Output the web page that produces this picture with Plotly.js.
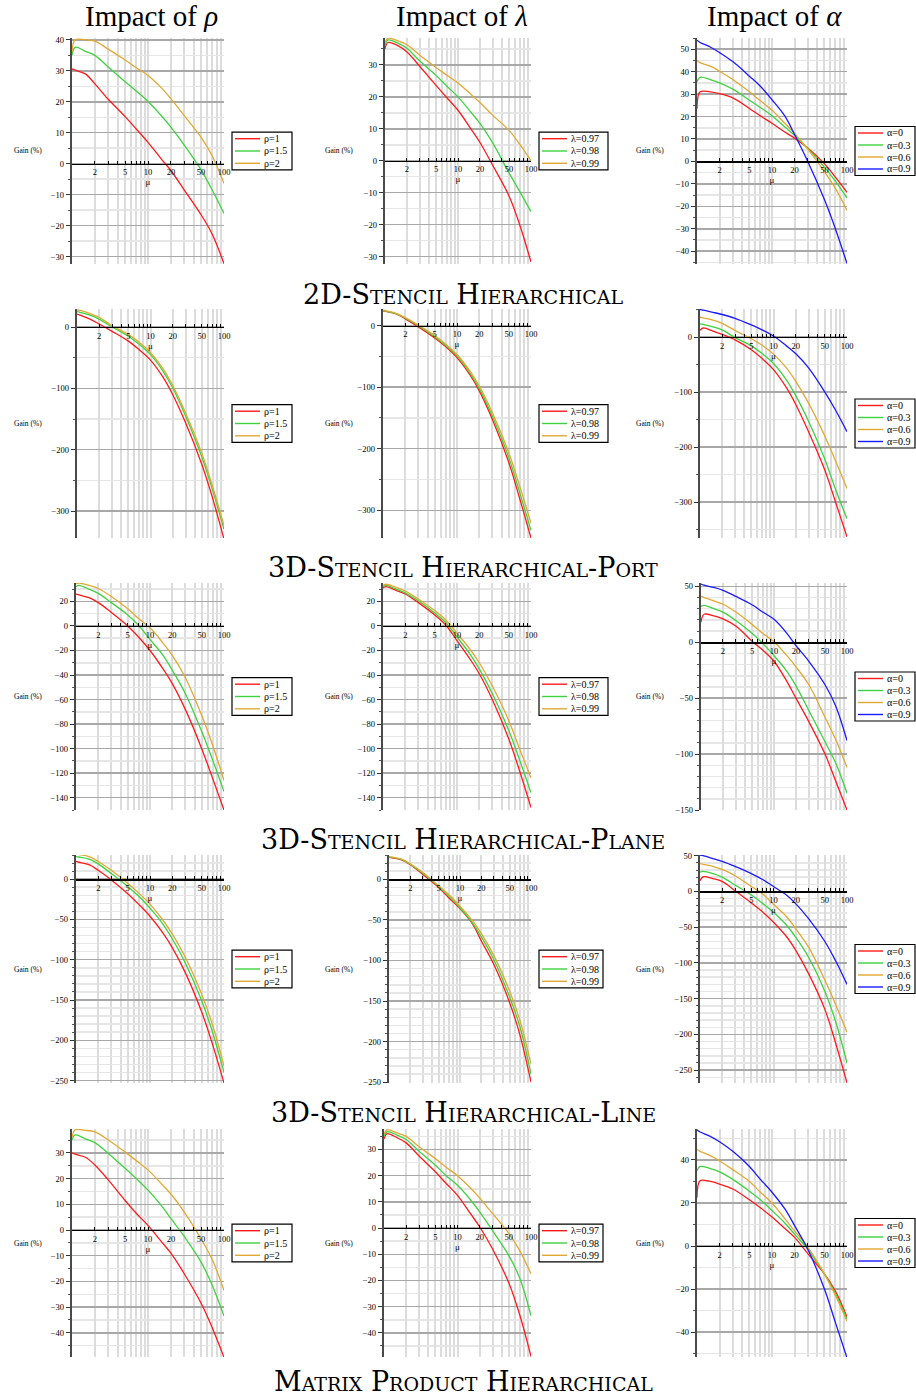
<!DOCTYPE html>
<html><head><meta charset="utf-8">
<script src="https://cdn.plot.ly/plotly-3.0.1.min.js"></script>
<style>html,body{margin:0;padding:0;background:#fff}</style>
</head><body><div id="chart" style="width:916px;height:1399px"></div>
<script>
// ---------- DATA ----------
const MU = [1, 1.1, 1.5, 2, 3, 5, 7, 10, 15, 20, 30, 50, 70, 100];
const X_TICKS = [2, 5, 10, 20, 50, 100];
const X_TICK_TEXT = ['2', '5', '10', '20', '50', '100'];
const RHO_LABELS = ['ρ=1', 'ρ=1.5', 'ρ=2'];
const LAMBDA_LABELS = ['λ=0.97', 'λ=0.98', 'λ=0.99'];
const ALPHA_LABELS = ['α=0', 'α=0.3', 'α=0.6', 'α=0.9'];
const COL_TITLES = ['Impact of <i>ρ</i>', 'Impact of <i>λ</i>', 'Impact of <i>α</i>'];
const ROW_CAPTIONS = ['2D-Stencil Hierarchical', '3D-Stencil Hierarchical-Port', '3D-Stencil Hierarchical-Plane', '3D-Stencil Hierarchical-Line', 'Matrix Product Hierarchical'];

// 2D-Stencil Hierarchical
const s2d_rho_1   = [30.6, 30.2, 29.0, 25.8, 20.8, 15.2, 11.2, 6.9, 1.5, -2.2, -8.5, -16.5, -22.8, -32.3];
const s2d_rho_15  = [35.1, 37.6, 36.3, 35.0, 31.2, 26.5, 23.5, 20.1, 15.5, 11.8, 6.0, -2.0, -8.5, -16.1];
const s2d_rho_2   = [36, 40, 40, 39.6, 37, 33.5, 31, 28.5, 24.5, 21, 15.5, 8.5, 2.5, -6.4];
const s2d_lam_97  = [35, 37, 36, 34, 29.5, 23.6, 19.8, 15.8, 10, 5.7, -1.5, -11, -20, -31.7];
const s2d_lam_98  = [36, 37.8, 36.8, 35.2, 31.2, 26.7, 23.4, 20, 15.2, 11.7, 5.5, -3.8, -9.6, -15.9];
const s2d_lam_99  = [37, 38.3, 37.5, 36.3, 33, 29.2, 26.8, 24.3, 20.8, 18.2, 14.2, 9.5, 5.2, 0];
const s2d_alp_0   = [23.5, 31.0, 31.0, 30.2, 28.3, 23.6, 20.3, 17, 13, 10.4, 6, -1, -7, -13.8];
const s2d_alp_03  = [35.5, 37.5, 36.5, 35, 32.2, 27.3, 24, 20.4, 15.2, 11.6, 5.8, -2.5, -8.8, -16.3];
const s2d_alp_06  = [45, 44, 42.5, 40.2, 36.5, 31, 27, 22.8, 16.8, 12.5, 5.5, -4.5, -12, -21.8];
const s2d_alp_09  = [54, 53, 51, 48.5, 44.5, 38, 33.5, 27.5, 20, 12, 0, -17, -30, -45.5];
// 3D-Stencil Hierarchical-Port
const port_rho_1  = [21, 19.5, 13, 5, -7, -23, -37, -54, -83, -110, -156, -224, -279, -346];
const port_rho_15 = [25, 24, 19.5, 13, 0, -15, -28, -45, -73, -99, -145, -212, -266, -330];
const port_rho_2  = [28, 27, 22, 16, 2, -12, -25, -42, -69, -95, -140, -206, -260, -324];
const port_lam_97 = [24, 23, 19, 11, -2, -20, -34, -52, -80, -106, -152, -222, -280, -345];
const port_lam_98 = [24.5, 23.5, 19.5, 12, 0, -18, -32, -49, -77, -102, -147, -214, -270, -333];
const port_lam_99 = [25, 24, 20, 13, 1, -16, -30, -47, -74, -98, -141, -206, -260, -321];
const port_alp_0  = [12, 16.5, 11, 5, -5, -23, -39, -59, -92, -122, -172, -242, -300, -363];
const port_alp_03 = [24, 23, 18.5, 13, -1, -16, -30, -48, -78, -106, -153, -222, -277, -330];
const port_alp_06 = [36, 35, 31, 25, 12, -3, -15, -31, -56, -80, -120, -180, -225, -275];
const port_alp_09 = [50, 49, 45, 41, 34, 22, 13, 2, -16, -30, -56, -100, -133, -172];
// 3D-Stencil Hierarchical-Plane
const plane_rho_1  = [26, 25.3, 23, 19, 11, 0, -9, -20, -35, -47, -68, -100, -124, -150];
const plane_rho_15 = [32, 33, 30, 26.5, 19, 9, 0.5, -11, -24, -36, -55, -86, -109, -135];
const plane_rho_2  = [34.5, 35, 33, 30.5, 24, 14, 6, -1.5, -14, -24, -42, -73, -97, -126];
const plane_lam_97 = [31, 32, 29, 26, 19, 9, 1, -12, -27, -39, -60, -92, -118, -148];
const plane_lam_98 = [32, 33, 30, 27, 20.5, 10.5, 3, -9, -23, -35, -55, -85, -109, -136];
const plane_lam_99 = [33, 34, 31.5, 28.5, 22, 12.5, 5, -6, -19, -30, -49, -77, -100, -124];
const plane_alp_0  = [18, 25, 23.5, 21, 14.5, 1, -7, -17, -35, -50, -71, -100, -124, -150];
const plane_alp_03 = [32, 33, 30, 27, 19.5, 8, -1, -12, -26, -39, -61, -89, -108, -135];
const plane_alp_06 = [41, 40, 37, 34, 27, 16, 8, 0.5, -12, -22, -38, -67, -87, -112];
const plane_alp_09 = [52, 51, 49, 46.5, 41, 33.5, 27, 20.5, 8, -3, -17, -38, -57, -88];
// 3D-Stencil Hierarchical-Line
const line_rho_1  = [22, 21, 18, 11, -1, -18, -31, -46, -67, -85, -116, -165, -205, -253];
const line_rho_15 = [28, 27.5, 25, 19, 7, -9, -21, -36, -56, -74, -104, -151, -190, -240];
const line_rho_2  = [31, 30.5, 28, 22, 11, -5, -17, -31, -51, -68, -97, -143, -181, -232];
const line_lam_97 = [27, 26.5, 24, 18, 6, -10, -23, -36, -55, -76, -105, -152, -192, -250];
const line_lam_98 = [27.5, 27, 24.5, 18.5, 7.5, -9, -21, -35, -54, -71, -99, -145, -182, -240];
const line_lam_99 = [28, 27.5, 25, 19, 8.5, -8, -19, -33, -51, -67, -94, -138, -174, -228];
const line_alp_0  = [15, 20.5, 18, 14, 1, -16, -28, -43, -63, -82, -115, -165, -212, -268];
const line_alp_03 = [27, 28, 25, 20, 9, -5, -16, -29, -47, -64, -92, -140, -182, -240];
const line_alp_06 = [39, 38, 35, 31, 22, 7, -3, -18, -35, -52, -78, -124, -158, -197];
const line_alp_09 = [51, 50, 46, 42, 35, 25, 17, 7, -5, -17, -38, -70, -97, -130];
// Matrix Product Hierarchical
const mat_rho_1   = [30, 29.5, 28.3, 25.3, 19.5, 11.5, 6.5, 1.8, -4.5, -9, -17, -28.5, -38, -49.5];
const mat_rho_15  = [35, 37, 35.5, 34, 29.8, 24, 20, 15.5, 9.5, 4.5, -2.5, -12.5, -21.5, -33.5];
const mat_rho_2   = [36, 39, 38.8, 38.2, 35, 30.3, 27, 23.4, 18, 14, 7, -3.5, -11.5, -23.5];
const mat_lam_97  = [34, 36, 34.5, 32.5, 27.5, 21.5, 17, 12.5, 5.5, 0.5, -8, -21, -33, -49];
const mat_lam_98  = [35, 36.8, 35.5, 33.8, 29.3, 24, 20, 16.3, 10.8, 6.2, -1, -10.5, -19, -33.5];
const mat_lam_99  = [36, 37.5, 36.3, 35, 31, 26.5, 23.2, 20, 15.3, 11.5, 5.5, -2, -8.5, -17.5];
const mat_alp_0   = [22.5, 30.3, 30, 28.8, 26.5, 21.5, 17.8, 13.5, 8, 4, -3.5, -13, -21, -33];
const mat_alp_03  = [35, 37, 36, 34.5, 31, 25.5, 21.5, 16.5, 10.5, 5.5, -1.5, -13, -22, -34];
const mat_alp_06  = [45, 44, 42, 39.5, 35.5, 30, 25, 20, 12.5, 7, -0.5, -13, -23, -35];
const mat_alp_09  = [54, 53, 51, 48.5, 44, 37, 31, 25, 17, 9.5, -1.5, -20, -35.5, -52];

// ---------- LAYOUT SPEC (pixels) ----------
const W = 916, H = 1399;
const COLORS = ['#ff1a1a', '#3fd23f', '#e2a833', '#1a1aff'];
const panels = [
  {s:[s2d_rho_1,s2d_rho_15,s2d_rho_2], lab:RHO_LABELS, box:[72,38,224,264], r:[-32.4,40.6], dt:10, mdt:5, col:0, lw:60},
  {s:[s2d_lam_97,s2d_lam_98,s2d_lam_99], lab:LAMBDA_LABELS, box:[385,38,531,264], r:[-32.3,38.4], dt:10, mdt:5, col:1, lw:69},
  {s:[s2d_alp_0,s2d_alp_03,s2d_alp_06,s2d_alp_09], lab:ALPHA_LABELS, box:[697,38,847,264], r:[-45.7,55], dt:10, mdt:5, col:2, lw:60},
  {s:[port_rho_1,port_rho_15,port_rho_2], lab:RHO_LABELS, box:[77,309,224,538], r:[-344,29.4], dt:100, mdt:50, col:0, lw:60},
  {s:[port_lam_97,port_lam_98,port_lam_99], lab:LAMBDA_LABELS, box:[383,309,531,538], r:[-345,27], dt:100, mdt:50, col:1, lw:69},
  {s:[port_alp_0,port_alp_03,port_alp_06,port_alp_09], lab:ALPHA_LABELS, box:[700,309,847,538], r:[-365,51], dt:100, mdt:50, col:2, lw:60},
  {s:[plane_rho_1,plane_rho_15,plane_rho_2], lab:RHO_LABELS, box:[76,583,224,810], r:[-150,35], dt:20, mdt:10, col:0, lw:60},
  {s:[plane_lam_97,plane_lam_98,plane_lam_99], lab:LAMBDA_LABELS, box:[383,583,531,810], r:[-150,35], dt:20, mdt:10, col:1, lw:69},
  {s:[plane_alp_0,plane_alp_03,plane_alp_06,plane_alp_09], lab:ALPHA_LABELS, box:[701,583,847,810], r:[-150,53], dt:50, mdt:10, col:2, lw:60},
  {s:[line_rho_1,line_rho_15,line_rho_2], lab:RHO_LABELS, box:[76,855,224,1083], r:[-253,30], dt:50, mdt:10, col:0, lw:60},
  {s:[line_lam_97,line_lam_98,line_lam_99], lab:LAMBDA_LABELS, box:[389,855,531,1083], r:[-251,30], dt:50, mdt:10, col:1, lw:64},
  {s:[line_alp_0,line_alp_03,line_alp_06,line_alp_09], lab:ALPHA_LABELS, box:[700,855,847,1083], r:[-268,51], dt:50, mdt:10, col:2, lw:60},
  {s:[mat_rho_1,mat_rho_15,mat_rho_2], lab:RHO_LABELS, box:[72,1129,224,1357], r:[-49.4,39.3], dt:10, mdt:5, col:0, lw:60},
  {s:[mat_lam_97,mat_lam_98,mat_lam_99], lab:LAMBDA_LABELS, box:[384,1129,531,1357], r:[-49.2,37.8], dt:10, mdt:5, col:1, lw:64},
  {s:[mat_alp_0,mat_alp_03,mat_alp_06,mat_alp_09], lab:ALPHA_LABELS, box:[697,1129,847,1357], r:[-51.6,54.4], dt:20, mdt:10, col:2, lw:60}
];
const GAIN_X = [28, 339, 650];
const COL_TITLE_X = [151, 462, 774];
const CAPTION_Y = [294, 567, 840, 1112, 1381];

const px = v => v / W;
const py = v => 1 - v / H;
const SERIF = 'Liberation Serif, Times New Roman, serif';
const CAPSERIF = 'DejaVu Serif, Liberation Serif, serif';
const minorX = [];
[1, 10].forEach(d => { for (let k = 1; k <= 9; k++) minorX.push(k * d); });
minorX.push(100);

const traces = [], layout = {
  width: W, height: H, margin: {l:0, r:0, t:0, b:0},
  paper_bgcolor: '#fff', plot_bgcolor: 'rgba(0,0,0,0)',
  showlegend: false, annotations: [], shapes: [],
  font: {family: SERIF, color: '#000'}
};

panels.forEach((p, i) => {
  const n = i + 1, sx = n === 1 ? '' : String(n);
  const [x0, y0, x1, y1] = p.box;
  const yd = [py(y1), py(y0)];
  const zeroPos = yd[0] + (0 - p.r[0]) / (p.r[1] - p.r[0]) * (yd[1] - yd[0]);
  p.s.forEach((vals, k) => {
    traces.push({x: MU, y: vals, type: 'scatter', mode: 'lines', name: p.lab[k],
      xaxis: 'x' + sx, yaxis: 'y' + sx, line: {color: COLORS[k], width: 1.3, shape: 'spline', smoothing: 1}, hoverinfo: 'skip'});
  });
  layout['xaxis' + sx] = {
    type: 'log', range: [0, 2], domain: [px(x0), px(x1)], anchor: 'free', position: zeroPos,
    showline: true, linecolor: '#000', linewidth: 1.4, zeroline: false,
    tickmode: 'array', tickvals: X_TICKS, ticktext: X_TICK_TEXT,
    ticks: 'inside', ticklen: 3, tickcolor: '#000', tickwidth: 1,
    tickfont: {family: SERIF, size: 8.5, color: '#000'},
    showgrid: true, gridcolor: '#dcdcdc', gridwidth: 2,
    minor: {tickmode: 'array', tickvals: minorX, showgrid: true, gridcolor: '#dcdcdc', gridwidth: 2,
            ticks: 'inside', ticklen: 3, tickcolor: '#000'},
    title: {text: 'μ', font: {family: SERIF, size: 9, color: '#000'}, standoff: 2},
    fixedrange: true
  };
  layout['yaxis' + sx] = {
    domain: yd, range: p.r, anchor: 'x' + sx, tick0: 0, dtick: p.dt,
    showgrid: true, gridcolor: '#a8a8a8', gridwidth: 1.5, zeroline: false,
    showline: true, linecolor: '#4a4a4a', linewidth: 2.2,
    ticks: 'outside', ticklen: 4, tickcolor: '#333',
    tickfont: {family: SERIF, size: 8.5, color: '#000'},
    minor: {dtick: p.mdt, tick0: 0, showgrid: true, gridcolor: '#e6e6e6', gridwidth: 1.5,
            ticks: 'outside', ticklen: 2, tickcolor: '#555'},
    fixedrange: true
  };
  layout.annotations.push({xref: 'paper', yref: 'paper', x: px(GAIN_X[p.col]), y: py((y0 + y1) / 2),
    text: 'Gain (%)', showarrow: false, xanchor: 'center', yanchor: 'middle',
    font: {family: SERIF, size: 7.5, color: '#000'}});
  const nItems = p.lab.length, rowH = nItems === 4 ? 12 : 12.3;
  const lh = nItems * rowH + 1, mid = (y0 + y1) / 2, lx = x1 + 8;
  layout.shapes.push({type: 'rect', xref: 'paper', yref: 'paper', x0: px(lx), x1: px(Math.min(lx + p.lw, 915.5)),
    y0: py(mid + lh / 2), y1: py(mid - lh / 2), line: {color: '#000', width: 1.2}, fillcolor: '#fff', layer: 'above'});
  p.lab.forEach((lab, k) => {
    const cy = mid - lh / 2 + 0.5 + rowH * (k + 0.5);
    layout.shapes.push({type: 'line', xref: 'paper', yref: 'paper', x0: px(lx + 3), x1: px(lx + 28),
      y0: py(cy), y1: py(cy), line: {color: COLORS[k], width: 1.4}, layer: 'above'});
    layout.annotations.push({xref: 'paper', yref: 'paper', x: px(lx + 30), y: py(cy), text: lab,
      showarrow: false, xanchor: 'left', yanchor: 'middle', font: {family: SERIF, size: 10, color: '#000'}});
  });
});

COL_TITLES.forEach((t, c) => layout.annotations.push({xref: 'paper', yref: 'paper', x: px(COL_TITLE_X[c]), y: py(16),
  text: t, showarrow: false, xanchor: 'center', yanchor: 'middle', font: {family: SERIF, size: 29, color: '#000'}}));
ROW_CAPTIONS.forEach((t, r) => layout.annotations.push({xref: 'paper', yref: 'paper', x: px(463), y: py(CAPTION_Y[r]),
  text: t, showarrow: false, xanchor: 'center', yanchor: 'middle', borderpad: 0,
  font: {family: CAPSERIF, size: 27, color: '#000', variant: 'small-caps'}}));

Plotly.newPlot('chart', traces, layout, {staticPlot: true, displayModeBar: false});
</script></body></html>
